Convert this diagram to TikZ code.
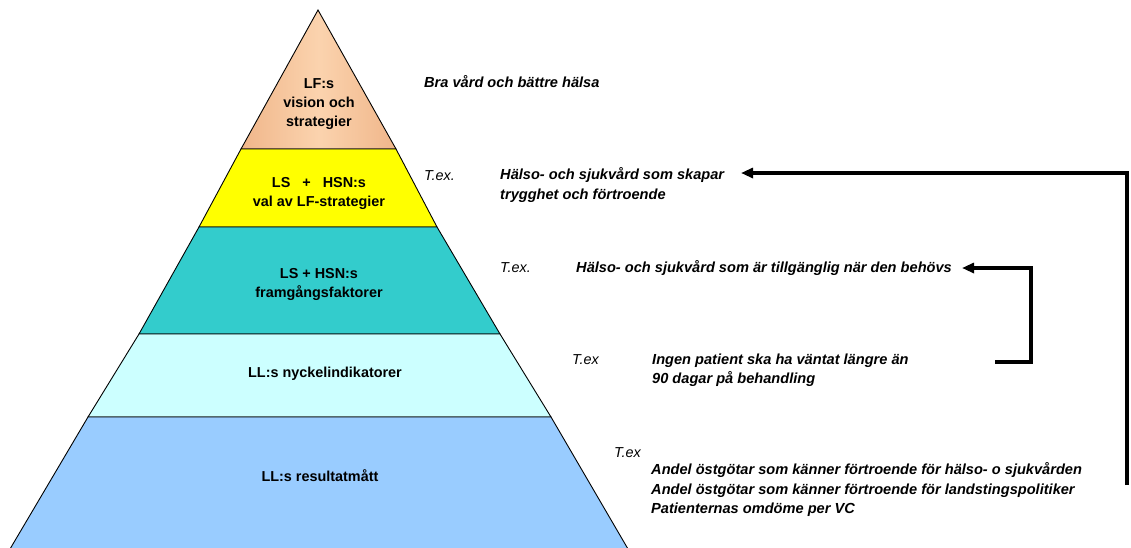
\documentclass[tikz,border=0pt]{standalone}
\usepackage{fontspec}
\setmainfont{Liberation Sans}
\usetikzlibrary{arrows.meta}
\definecolor{peachD}{HTML}{F0B68A}
\definecolor{peachL}{HTML}{FBD3AE}
\definecolor{yel}{HTML}{FFFF00}
\definecolor{teal}{HTML}{33CCCC}
\definecolor{lcyan}{HTML}{CCFFFF}
\definecolor{lblue}{HTML}{99CCFF}
\tikzset{
  band/.style={draw=black, line width=0.9pt, line join=miter},
  bandtxt/.style={font=\fontsize{14.4}{19}\selectfont\bfseries, align=center, inner sep=0pt},
  note/.style={font=\fontsize{14.6}{19.5}\selectfont\bfseries\itshape, anchor=mid west, align=left, inner sep=0pt},
  tex/.style={font=\fontsize{14.4}{19}\selectfont\itshape, anchor=mid west, inner sep=0pt},
  arr/.style={line width=3.3pt, -{Triangle[length=12pt,width=10pt]}}
}
\begin{document}
\begin{tikzpicture}[x=1pt,y=-1pt]
\useasboundingbox (0,0) rectangle (1131,547);
% bands
\shade[left color=peachD, right color=peachD, middle color=peachL] (318,10) -- (396,149) -- (241,149) -- cycle;
\draw[band] (318,10) -- (396,149) -- (241,149) -- cycle;
\draw[band, fill=yel] (241,149) -- (396,149) -- (437,227) -- (199,227) -- cycle;
\draw[band, fill=teal] (199,227) -- (437,227) -- (500,334) -- (139,334) -- cycle;
\draw[band, fill=lcyan] (139,334) -- (500,334) -- (551,417) -- (88,417) -- cycle;
\draw[band, fill=lblue] (88,417) -- (551,417) -- (628,549) -- (10,549) -- cycle;
% band labels
\node[bandtxt] (b1) at (319,104) {LF:s\\vision och\\strategier};
\node[bandtxt] (b2) at (319,193) {LS \ \ + \ \ HSN:s\\val av LF-strategier};
\node[bandtxt] (b3) at (319,284) {LS + HSN:s\\framgångsfaktorer};
\node[bandtxt] (b4) at (325,374) {LL:s nyckelindikatorer};
\node[bandtxt] (b5) at (320,476) {LL:s resultatmått};
% right notes
\node[note] (n1) at (424,85) {Bra vård och bättre hälsa};
\node[tex] (t2) at (424,178) {T.ex.};
\node[note] (n2) at (500,177) {Hälso- och sjukvård som skapar};
\node[note] (n2b) at (500,197) {trygghet och förtroende};
\node[tex] (t3) at (500,270) {T.ex.};
\node[note] (n3) at (576,270) {Hälso- och sjukvård som är tillgänglig när den behövs};
\node[tex] (t4) at (572,362) {T.ex};
\node[note] (n4) at (652,362) {Ingen patient ska ha väntat längre än};
\node[note] (n4b) at (652,381) {90 dagar på behandling};
\node[tex] (t5) at (614,455) {T.ex};
\node[note] (n5) at (651,472) {Andel östgötar som känner förtroende för hälso- o sjukvården};
\node[note] (n5b) at (651,492) {Andel östgötar som känner förtroende för landstingspolitiker};
\node[note] (n5c) at (651,511) {Patienternas omdöme per VC};
% connectors
\coordinate (s1) at (1127,485);
\coordinate (c1) at (1127,173);
\coordinate (e1) at (741,173);
\draw[arr] (s1) -- (c1) -- (e1);
\coordinate (s2) at (995,362);
\coordinate (c2a) at (1031,362);
\coordinate (c2b) at (1031,268);
\coordinate (e2) at (962,268);
\draw[arr] (s2) -- (c2a) -- (c2b) -- (e2);
\end{tikzpicture}
\end{document}
